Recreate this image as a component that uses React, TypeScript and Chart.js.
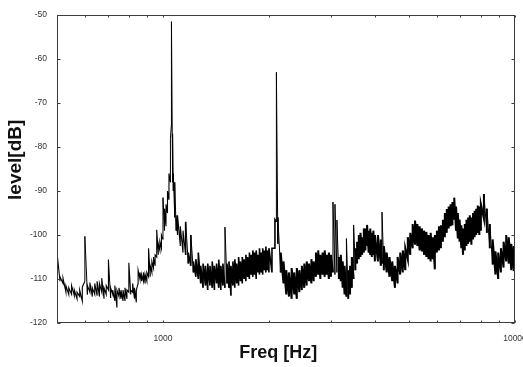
import React, { useEffect, useRef } from 'react';
import { Chart, registerables } from 'chart.js';

Chart.register(...registerables);

// Spectrum: for each frequency column, the upper and lower
// edge of the plotted trace (dB).
const FREQ_HZ = [
  500, 510, 520, 530, 540, 550, 560, 570, 580, 590,
  600, 610, 620, 630, 640, 650, 660, 670, 680, 690,
  700, 710, 720, 730, 740, 750, 760, 770, 780, 790,
  800, 810, 820, 830, 840, 850, 860, 870, 880, 890,
  900, 910, 920, 930, 940, 950, 960, 970, 980, 990,
  1000, 1010, 1020, 1030, 1040, 1050, 1057, 1065, 1070, 1080,
  1090, 1100, 1120, 1140, 1160, 1180, 1200, 1220, 1240, 1260,
  1280, 1300, 1320, 1340, 1360, 1380, 1400, 1420, 1440, 1460,
  1480, 1500, 1520, 1540, 1560, 1580, 1600, 1620, 1640, 1660,
  1680, 1700, 1720, 1740, 1760, 1780, 1800, 1820, 1840, 1860,
  1880, 1900, 1920, 1940, 1960, 1980, 2000, 2040, 2080, 2100,
  2120, 2160, 2200, 2240, 2280, 2320, 2360, 2400, 2440, 2480,
  2520, 2560, 2600, 2640, 2680, 2720, 2760, 2800, 2840, 2880,
  2920, 2960, 3000, 3040, 3080, 3120, 3160, 3200, 3240, 3280,
  3320, 3360, 3400, 3440, 3480, 3520, 3560, 3600, 3640, 3680,
  3720, 3760, 3800, 3840, 3880, 3920, 3960, 4000, 4080, 4160,
  4190, 4240, 4320, 4400, 4480, 4560, 4640, 4720, 4800, 4880,
  4960, 5040, 5120, 5200, 5280, 5360, 5440, 5520, 5600, 5680,
  5760, 5840, 5920, 6000, 6080, 6160, 6240, 6320, 6400, 6480,
  6560, 6640, 6720, 6800, 6880, 6960, 7040, 7120, 7200, 7280,
  7360, 7440, 7520, 7600, 7680, 7760, 7840, 7920, 8000, 8160,
  8320, 8480, 8640, 8800, 8960, 9120, 9280, 9440, 9600, 9760,
  9920, 10000,
];

const LEVEL_HI_DB = [
  -104, -109.5, -109.8, -111.5, -112, -111.5, -112.5, -113, -112.5, -111.8,
  -100.3, -111.5, -110.8, -112, -111, -110.5, -111, -109.8, -112, -111.5,
  -105.6, -112, -112.5, -111.5, -112.5, -112, -112.5, -112.5, -112, -112.5,
  -106.3, -112.5, -111, -112, -112.5, -108, -108.5, -109, -108.5, -109,
  -108.5, -103, -107, -106, -105, -104.5, -98.8, -102, -101.5, -100,
  -91.5, -94, -93, -90, -86, -78, -51.5, -77, -86, -88,
  -95.5, -95.5, -98, -99, -97, -104, -100, -106, -105.5, -104,
  -107, -106.5, -107, -106.5, -107, -106, -107, -106.5, -105.6, -107,
  -106.5, -98.2, -106.5, -106, -107, -106, -105.5, -106.5, -105, -106,
  -105, -105.5, -104.5, -105, -104, -104.5, -103.5, -104, -103.5, -104.5,
  -103, -104, -103, -103.5, -102.6, -103.5, -103, -103, -96.5, -63,
  -96, -104, -106, -108, -108.5, -107.5, -108.5, -107.5, -108, -107,
  -106.5, -106, -106.5, -105.5, -106, -104, -103.5, -104.5, -104, -103.5,
  -104.5, -104, -104.5, -92.5, -93, -96.6, -105, -104.5, -106, -107,
  -100.8, -108, -107, -105, -97.7, -103, -101.5, -100, -99.5, -100.5,
  -98.5, -98.5, -97.7, -99, -98.5, -99.5, -99, -100, -100, -101,
  -94.8, -102.5, -104, -105, -106, -107, -105, -104, -103.5, -103,
  -100.5, -99.5, -97.5, -96.7, -97.5, -98, -98.5, -99, -99.3, -100,
  -99.5, -100.5, -100, -99, -98, -97.8, -96.5, -95, -94.1, -93.5,
  -93, -92.5, -91.5, -93.5, -95, -96.5, -97.8, -98.5, -97.5, -96.5,
  -96, -95.5, -96, -95, -94.5, -94, -93.3, -93.5, -93, -90.7,
  -94, -97.5, -101, -103.7, -104, -103, -101.5, -100, -100.5, -102,
  -102.5, -103,
];

const LEVEL_LO_DB = [
  -110, -110.5, -111, -113, -113.5, -113.5, -113.8, -114.5, -114, -115,
  -110.5, -113.5, -113, -114, -113.5, -113.8, -114, -113, -114.5, -113.5,
  -112.5, -114.3, -113.5, -115, -116.5, -114, -114.5, -115, -115, -114.5,
  -113, -113.5, -113, -114.5, -115.3, -111, -110, -110.5, -110.5, -111,
  -110.5, -109.5, -109.5, -108.5, -107.5, -107, -105, -104.5, -103.5, -103,
  -101, -99, -98, -95, -92, -88, -75, -88, -90, -96,
  -99, -100, -102.5, -104, -104.5, -106.5, -107, -108.5, -109.5, -110,
  -111, -112, -111.5, -112.5, -111.5, -112, -112.5, -111, -112, -112.5,
  -111.5, -112, -111, -112, -113.8, -111.5, -112, -111, -111.5, -110.5,
  -111, -110, -110.5, -109.5, -110, -109, -109.5, -109, -110, -108.5,
  -109, -108.5, -109, -108, -108.5, -108, -108.5, -108.5, -103, -97,
  -102, -108.5, -111, -113.5, -114, -114.5, -113.5, -114.5, -113, -112.5,
  -112, -111.5, -110.5, -111, -110.5, -109.5, -109, -110, -109, -109.5,
  -109, -110, -109.5, -108.5, -109, -108.5, -110, -110.5, -112, -113.5,
  -114, -114.5, -113.5, -112, -110, -108, -106.5, -105.5, -105, -104.5,
  -104, -103.5, -102.5, -104, -104.5, -105, -104.5, -106, -106, -107,
  -106.5, -108, -108.5, -109.5, -110.5, -112, -111, -109, -108.5, -108,
  -105.5, -104.5, -103, -102.2, -102.5, -103.5, -103.7, -104.5, -105, -105.5,
  -106, -105.5, -107.8, -104, -103.5, -103, -101.5, -100.5, -99.5, -98.5,
  -98, -97.8, -96.5, -99, -100.8, -101.5, -103, -104.5, -103.5, -102.5,
  -102, -101.5, -102.2, -101, -100.5, -100, -99.5, -100, -99, -96.3,
  -99.5, -103, -106.7, -109, -110, -108.5, -107.4, -106, -106.5, -108,
  -108.2, -107.5,
];

const Y_TICKS_DB = [-50, -60, -70, -80, -90, -100, -110, -120];
const X_LABEL_TICKS_HZ = [1000, 10000];
const X_MINOR_TICKS_HZ = [600, 700, 800, 900, 2000, 3000, 4000, 5000, 6000, 7000, 8000, 9000];
const X_TITLE = 'Freq [Hz]';
const Y_TITLE = 'level[dB]';

const FONT = '"Liberation Sans", Arial, Helvetica, sans-serif';

export default function App() {
  const canvasRef = useRef<HTMLCanvasElement | null>(null);

  useEffect(() => {
    const canvas = canvasRef.current;
    if (!canvas) return;

    const points: { x: number; y: number }[] = [];
    FREQ_HZ.forEach((f, i) => {
      points.push({ x: f, y: LEVEL_LO_DB[i] });
      points.push({ x: f, y: LEVEL_HI_DB[i] });
    });

    const framePlugin = {
      id: 'framePlugin',
      afterDraw(chart: any) {
        const { ctx, chartArea: a, scales } = chart;
        ctx.save();
        ctx.strokeStyle = '#3c3c3c';
        ctx.lineWidth = 1;
        const l = Math.round(a.left) + 0.5;
        const t = Math.round(a.top) + 0.5;
        const r = Math.round(a.right) - 0.5;
        const b = Math.round(a.bottom) - 0.5;
        ctx.strokeRect(l, t, r - l, b - t);
        ctx.beginPath();
        for (const v of Y_TICKS_DB) {
          const y = Math.round(scales.y.getPixelForValue(v)) + 0.5;
          ctx.moveTo(l, y);
          ctx.lineTo(l + 3, y);
          ctx.moveTo(r - 3, y);
          ctx.lineTo(r, y);
        }
        for (const v of X_MINOR_TICKS_HZ.concat(X_LABEL_TICKS_HZ)) {
          const x = Math.round(scales.x.getPixelForValue(v)) + 0.5;
          ctx.moveTo(x, b);
          ctx.lineTo(x, b - 2);
          ctx.moveTo(x, t);
          ctx.lineTo(x, t + 2);
        }
        ctx.stroke();

        ctx.fillStyle = '#333';
        ctx.font = `8.5px ${FONT}`;
        ctx.textAlign = 'center';
        ctx.textBaseline = 'middle';
        for (const v of X_LABEL_TICKS_HZ) {
          ctx.fillText(String(v), scales.x.getPixelForValue(v), a.bottom + 16);
        }
        ctx.fillStyle = '#111';
        ctx.font = `bold 18px ${FONT}`;
        ctx.fillText(X_TITLE, a.left + (a.right - a.left) * 0.483, a.bottom + 30);

        ctx.translate(16, a.top + (a.bottom - a.top) * 0.47);
        ctx.rotate(-Math.PI / 2);
        ctx.font = `bold 19px ${FONT}`;
        ctx.fillText(Y_TITLE, 0, 0);
        ctx.restore();
      },
    };

    const chart = new Chart(canvas, {
      type: 'line',
      data: {
        datasets: [
          {
            data: points,
            borderColor: '#000',
            borderWidth: 1,
            pointRadius: 0,
            tension: 0,
            fill: false,
            segment: {
              borderWidth: (c: any) => {
                const f = c.p0.parsed.x;
                const dy = Math.abs(c.p0.parsed.y - c.p1.parsed.y);
                if (dy > 8) return 1;
                if (f >= 2150) return 2;
                if (f >= 1150) return 1.6;
                return 1.1;
              },
            },
          },
        ],
      },
      options: {
        animation: false,
        responsive: false,
        devicePixelRatio: 1,
        events: [],
        layout: { padding: { left: 0, right: 8, top: 9, bottom: 0 } },
        plugins: { legend: { display: false }, tooltip: { enabled: false } },
        scales: {
          x: {
            type: 'logarithmic',
            min: 500,
            max: 10000,
            grid: { display: false, drawTicks: false },
            border: { display: false },
            ticks: { display: false },
            afterFit(scale: any) {
              scale.height = 44;
            },
          },
          y: {
            type: 'linear',
            min: -120,
            max: -50,
            grid: { display: false, drawTicks: false },
            border: { display: false },
            ticks: {
              stepSize: 10,
              padding: 10,
              color: '#333',
              font: { family: FONT, size: 8.5 },
              callback: (v: any) => String(v),
            },
            afterFit(scale: any) {
              scale.width = 57;
            },
          },
        },
      },
      plugins: [framePlugin],
    } as any);

    return () => chart.destroy();
  }, []);

  return (
    <div style={{ position: 'fixed', left: 0, top: 0, width: 523, height: 367, background: '#fff' }}>
      <canvas ref={canvasRef} width={523} height={367} style={{ display: 'block' }} />
    </div>
  );
}
